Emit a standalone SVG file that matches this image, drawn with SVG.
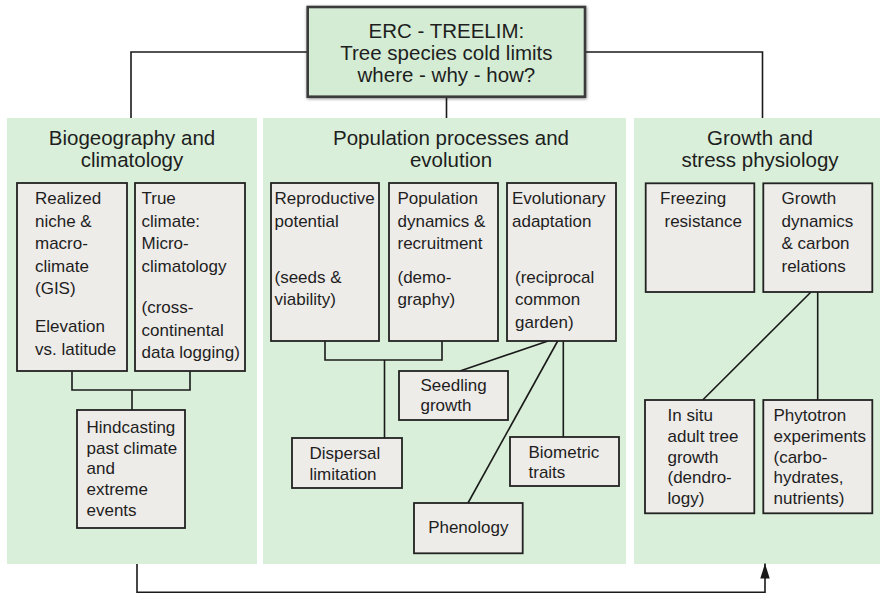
<svg xmlns="http://www.w3.org/2000/svg" width="880" height="594" viewBox="0 0 880 594">
<defs>
<style>
text{font-family:"Liberation Sans",Arial,Helvetica,sans-serif;fill:#1e1e1e}
.t{font-size:17px}
.h{font-size:20.5px;text-anchor:middle}
.panel{fill:#d9efd9;stroke:none}
.box{fill:#eeece9;stroke:#222;stroke-width:1.8}
.top{fill:#d4ecd4;stroke:#3a3a3a;stroke-width:2.6}
.c{fill:none;stroke:#1a1a1a;stroke-width:1.6}
</style>
<filter id="sh" x="-10%" y="-20%" width="120%" height="140%">
<feDropShadow dx="0.5" dy="1" stdDeviation="1.5" flood-color="#000" flood-opacity="0.45"/>
</filter>
<marker id="arr" markerUnits="userSpaceOnUse" markerWidth="16" markerHeight="11" refX="15" refY="4.7" orient="auto">
<path d="M0,0 L15,4.7 L0,9.4 Z" fill="#1a1a1a"/>
</marker>
</defs>
<rect width="880" height="594" fill="#ffffff"/>

<g id="panel-biogeography">
<rect class="panel" x="7" y="118" width="250" height="446"/>
<text class="h" x="132" y="145">Biogeography and</text>
<text class="h" x="132" y="167.3">climatology</text>
</g>
<g id="panel-population">
<rect class="panel" x="263" y="118" width="363" height="446"/>
<text class="h" x="451" y="144.5">Population processes and</text>
<text class="h" x="451" y="167.3">evolution</text>
</g>
<g id="panel-growth">
<rect class="panel" x="634" y="118" width="246" height="446"/>
<text class="h" x="760" y="144.5">Growth and</text>
<text class="h" x="760" y="167.3">stress physiology</text>
</g>

<g id="connectors">
<path class="c" d="M307.7,52 H131 V118"/>
<path class="c" d="M585,52 H762.5 V118"/>
<path class="c" d="M446.5,97 V118"/>
<path class="c" d="M72,371 V390 H190 V371"/>
<path class="c" d="M132,390 V410"/>
<path class="c" d="M325,341 V360 H442 V341"/>
<path class="c" d="M384.5,360 V438"/>
<path class="c" d="M548,341 L460,371"/>
<path class="c" d="M557.7,341 L468,503"/>
<path class="c" d="M563.3,341 V437"/>
<path class="c" d="M811,292 L702.7,400"/>
<path class="c" d="M817.7,292 V400"/>
<path class="c" d="M137,564 V592.3 H765 V563.5" marker-end="url(#arr)"/>
</g>

<g id="top">
<rect class="top" x="307.7" y="7" width="277.3" height="89.7" filter="url(#sh)"/>
<text class="h" x="446.4" y="37.5">ERC - TREELIM:</text>
<text class="h" x="446.4" y="59.5">Tree species cold limits</text>
<text class="h" x="446.4" y="81.7">where - why - how?</text>
</g>

<g id="realized">
<rect class="box" x="17" y="183" width="110" height="188"/>
<text class="t" x="35" y="204">Realized</text>
<text class="t" x="35" y="226.7">niche &amp;</text>
<text class="t" x="35" y="249.3">macro-</text>
<text class="t" x="35" y="272">climate</text>
<text class="t" x="35" y="294.3">(GIS)</text>
<text class="t" x="35" y="332">Elevation</text>
<text class="t" x="35" y="354.5">vs. latitude</text>
</g>
<g id="trueclimate">
<rect class="box" x="135" y="183" width="110" height="188"/>
<text class="t" x="141.5" y="204">True</text>
<text class="t" x="141.5" y="226.7">climate:</text>
<text class="t" x="141.5" y="249.3">Micro-</text>
<text class="t" x="141.5" y="272">climatology</text>
<text class="t" x="141.5" y="313">(cross-</text>
<text class="t" x="141.5" y="335.5">continental</text>
<text class="t" x="141.5" y="358">data logging)</text>
</g>
<g id="hindcasting">
<rect class="box" x="77" y="410" width="108" height="118"/>
<text class="t" x="86.5" y="432.7">Hindcasting</text>
<text class="t" x="86.5" y="453.7">past climate</text>
<text class="t" x="86.5" y="474.3">and</text>
<text class="t" x="86.5" y="495.3">extreme</text>
<text class="t" x="86.5" y="516">events</text>
</g>

<g id="reproductive">
<rect class="box" x="271" y="183" width="108" height="158"/>
<text class="t" x="274.5" y="204">Reproductive</text>
<text class="t" x="274.5" y="226.7">potential</text>
<text class="t" x="274.5" y="282.7">(seeds &amp;</text>
<text class="t" x="274.5" y="305">viability)</text>
</g>
<g id="popdynamics">
<rect class="box" x="389" y="183" width="109" height="158"/>
<text class="t" x="397.5" y="204">Population</text>
<text class="t" x="397.5" y="226.7">dynamics &amp;</text>
<text class="t" x="397.5" y="248.7">recruitment</text>
<text class="t" x="397.5" y="282.7">(demo-</text>
<text class="t" x="397.5" y="305">graphy)</text>
</g>
<g id="evolutionary">
<rect class="box" x="507" y="183" width="109" height="158"/>
<text class="t" x="512" y="204">Evolutionary</text>
<text class="t" x="512" y="226.7">adaptation</text>
<text class="t" x="515" y="282.7">(reciprocal</text>
<text class="t" x="515" y="305">common</text>
<text class="t" x="515" y="327.7">garden)</text>
</g>
<g id="seedling">
<rect class="box" x="399" y="371" width="109" height="49"/>
<text class="t" x="420.5" y="391">Seedling</text>
<text class="t" x="420.5" y="410.5">growth</text>
</g>
<g id="dispersal">
<rect class="box" x="292" y="438" width="110" height="50"/>
<text class="t" x="309.5" y="459.3">Dispersal</text>
<text class="t" x="309.5" y="480">limitation</text>
</g>
<g id="biometric">
<rect class="box" x="510" y="437" width="109" height="49"/>
<text class="t" x="528.5" y="457.7">Biometric</text>
<text class="t" x="528.5" y="477.7">traits</text>
</g>
<g id="phenology">
<rect class="box" x="414" y="503" width="108.7" height="50.3"/>
<text class="t" x="468.3" y="533.3" text-anchor="middle">Phenology</text>
</g>

<g id="freezing">
<rect class="box" x="645.7" y="183.3" width="108.6" height="108.7"/>
<text class="t" x="660" y="204">Freezing</text>
<text class="t" x="664.5" y="226.7">resistance</text>
</g>
<g id="growthdyn">
<rect class="box" x="763.3" y="183.3" width="109" height="108.7"/>
<text class="t" x="781.5" y="204">Growth</text>
<text class="t" x="781.5" y="226.7">dynamics</text>
<text class="t" x="781.5" y="249">&amp; carbon</text>
<text class="t" x="781.5" y="271.7">relations</text>
</g>
<g id="insitu">
<rect class="box" x="645" y="400" width="109.3" height="113.3"/>
<text class="t" x="667.5" y="421">In situ</text>
<text class="t" x="667.5" y="442">adult tree</text>
<text class="t" x="667.5" y="462.7">growth</text>
<text class="t" x="667.5" y="483.3">(dendro-</text>
<text class="t" x="667.5" y="504.3">logy)</text>
</g>
<g id="phytotron">
<rect class="box" x="763.3" y="400" width="109" height="113.3"/>
<text class="t" x="773.5" y="421">Phytotron</text>
<text class="t" x="773.5" y="442">experiments</text>
<text class="t" x="773.5" y="462.7">(carbo-</text>
<text class="t" x="773.5" y="483.3">hydrates,</text>
<text class="t" x="773.5" y="504.3">nutrients)</text>
</g>
</svg>
